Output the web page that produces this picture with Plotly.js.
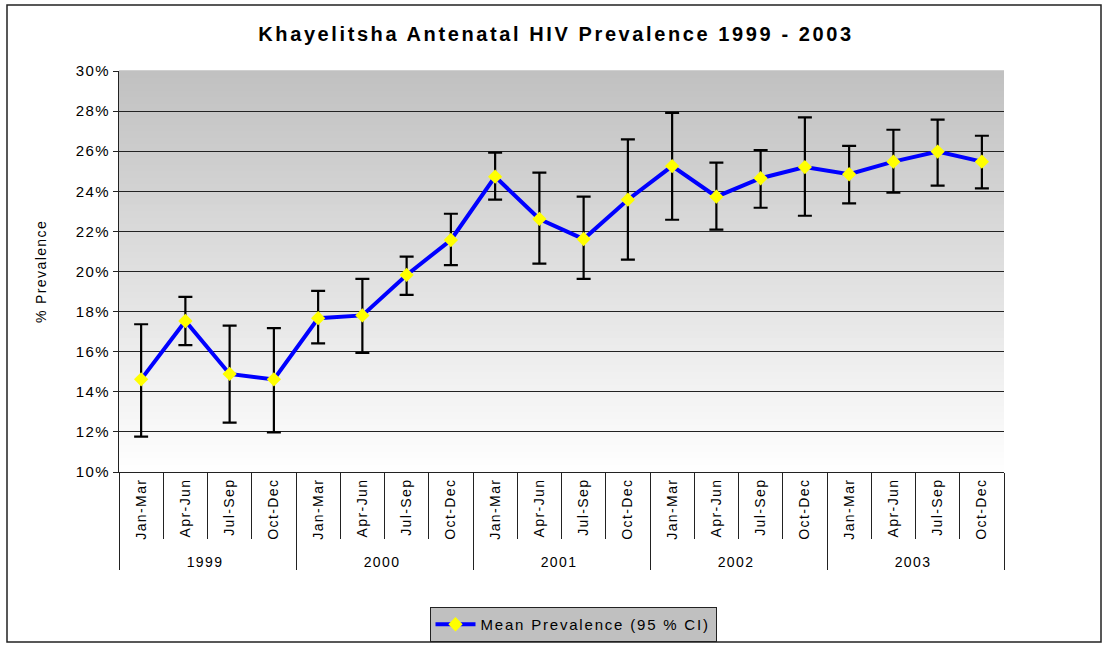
<!DOCTYPE html>
<html>
<head>
<meta charset="utf-8">
<script src="https://cdn.plot.ly/plotly-3.0.1.min.js"></script>
<style>
html,body{margin:0;padding:0;background:#fff;}
#chart{width:1106px;height:646px;}
text{letter-spacing:1.4px;}
.gtitle{letter-spacing:2.6px !important;}
.legendtext{letter-spacing:1.8px !important;}
</style>
</head>
<body>
<div id="chart"></div>
<script>
// ---- data ----
var years = ["1999","1999","1999","1999","2000","2000","2000","2000","2001","2001","2001","2001","2002","2002","2002","2002","2003","2003","2003","2003"];
var quarters = ["Jan-Mar","Apr-Jun","Jul-Sep","Oct-Dec","Jan-Mar","Apr-Jun","Jul-Sep","Oct-Dec","Jan-Mar","Apr-Jun","Jul-Sep","Oct-Dec","Jan-Mar","Apr-Jun","Jul-Sep","Oct-Dec","Jan-Mar","Apr-Jun","Jul-Sep","Oct-Dec"];
var meanPrev = [14.62,17.53,14.89,14.62,17.67,17.81,19.83,21.57,24.73,22.62,21.62,23.58,25.26,23.73,24.65,25.21,24.85,25.48,25.98,25.48];
var upperCI  = [17.37,18.73,17.30,17.18,19.03,19.63,20.74,22.88,25.93,24.93,23.73,26.59,27.91,25.43,26.06,27.69,26.27,27.07,27.57,26.77];
var lowerCI  = [11.76,16.33,12.46,11.98,16.42,15.94,18.83,20.32,23.58,20.39,19.63,20.59,22.58,22.09,23.18,22.78,23.40,23.93,24.28,24.15];
var yTickVals = [10,12,14,16,18,20,22,24,26,28,30];

// ---- derived ----
var errPlus = meanPrev.map(function(m,i){return +(upperCI[i]-m).toFixed(3);});
var errMinus = meanPrev.map(function(m,i){return +(m-lowerCI[i]).toFixed(3);});
var yTickText = yTickVals.map(function(v){return v+"%";});

// gradient background via thin shapes (styling only)
var shapes = [];
var N = 60;
for (var k=0;k<N;k++){
  var t = (k+0.5)/N; // 0 bottom -> 1 top
  var c = Math.round(255 - (255-192)*t);
  shapes.push({type:"rect", xref:"x domain", yref:"y domain", x0:0, x1:1, y0:k/N, y1:(k+1)/N + 0.002,
    fillcolor:"rgb("+c+","+c+","+c+")", line:{width:0}, layer:"below"});
}
// outer frame
var L=119, R=1004, T=71, B=472;
function px(x){return (x-L)/(R-L);}
function py(y){return (B-y)/(B-T);}
shapes.push({type:"rect", xref:"paper", yref:"paper", x0:px(7), x1:px(1101), y0:py(642), y1:py(5),
  line:{color:"#222", width:1.5}, fillcolor:"rgba(0,0,0,0)", layer:"above"});

var trace = {
  x:[years, quarters],
  y:meanPrev,
  type:"scatter",
  mode:"lines+markers",
  name:"Mean Prevalence (95 % CI)",
  line:{color:"#0000ff", width:4},
  marker:{symbol:"diamond", color:"#ffff00", size:11, line:{width:0}},
  error_y:{type:"data", symmetric:false, array:errPlus, arrayminus:errMinus,
    color:"#000", thickness:2.2, width:7}
};

var layout = {
  width:1106, height:646,
  margin:{l:L, r:1106-R, t:T, b:646-B, pad:0},
  paper_bgcolor:"#fff",
  plot_bgcolor:"rgba(0,0,0,0)",
  font:{family:"Liberation Sans, Arial, sans-serif", color:"#000", size:14},
  title:{text:"Khayelitsha Antenatal HIV Prevalence 1999 - 2003",
    font:{family:"Liberation Sans, Arial, sans-serif", size:20, color:"#000", weight:"bold"},
    x:px(556), xref:"paper", xanchor:"center", y:1-34/646, yanchor:"middle"},
  xaxis:{type:"multicategory", range:[-0.5,19.5], autorange:false, automargin:false,
    showline:true, linecolor:"#222", linewidth:1,
    ticks:"outside", ticklen:66, tickcolor:"#222", tickwidth:1,
    tickangle:-90, tickfont:{size:14},
    showdividers:true, dividercolor:"#222", dividerwidth:1,
    showgrid:false, zeroline:false},
  yaxis:{range:[10,30], autorange:false, automargin:false, tickvals:yTickVals, ticktext:yTickText,
    showline:true, linecolor:"#222", linewidth:1,
    ticks:"outside", ticklen:5, tickcolor:"#222", showgrid:true, gridcolor:"#222", gridwidth:1,
    zeroline:false, tickfont:{size:15},
    title:{text:"% Prevalence", font:{size:14}, standoff:25}},
  showlegend:true,
  legend:{x:573/1106, xref:"container", xanchor:"center", y:1-607/646, yref:"container", yanchor:"top", orientation:"h",
    bgcolor:"#c0c0c0", bordercolor:"#222", borderwidth:1, font:{size:15}, itemwidth:40},
  shapes:shapes
};

Plotly.newPlot("chart",[trace],layout,{displayModeBar:false, staticPlot:true});
</script>
</body>
</html>
